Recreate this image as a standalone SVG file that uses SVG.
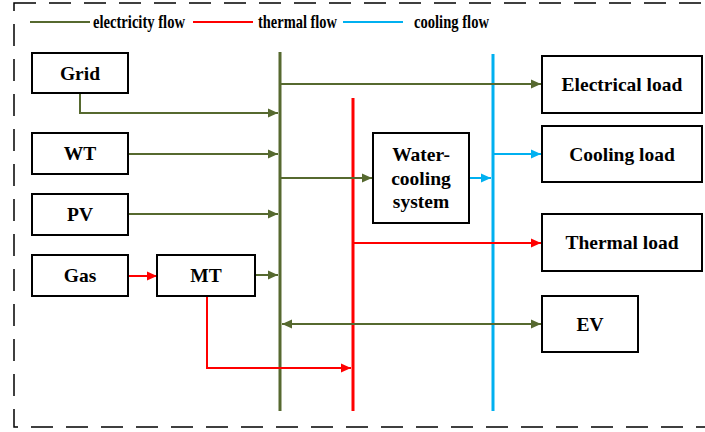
<svg xmlns="http://www.w3.org/2000/svg" width="705" height="432" viewBox="0 0 705 432">
<style>
.box{fill:#fff;stroke:#000;stroke-width:2}
.lbl{font-family:"Liberation Serif","Times New Roman",serif;font-weight:bold;font-size:19.5px;text-anchor:middle;fill:#000}
.leg{font-family:"Liberation Serif","Times New Roman",serif;font-weight:bold;font-size:19.5px;fill:#000}
.g{stroke:#56692F;fill:none;stroke-width:2}
.r{stroke:#FF0000;fill:none;stroke-width:2}
.b{stroke:#00B0F0;fill:none;stroke-width:2}
.bus{stroke-width:3}
</style>
<defs>
<marker id="ag" viewBox="0 0 10 10" refX="10" refY="5" markerWidth="10" markerHeight="10" markerUnits="userSpaceOnUse" orient="auto-start-reverse"><path d="M0,0.5 L10,5 L0,9.5 Z" fill="#56692F"/></marker>
<marker id="ar" viewBox="0 0 10 10" refX="10" refY="5" markerWidth="10" markerHeight="10" markerUnits="userSpaceOnUse" orient="auto"><path d="M0,0.5 L10,5 L0,9.5 Z" fill="#FF0000"/></marker>
<marker id="ab" viewBox="0 0 10 10" refX="10" refY="5" markerWidth="10" markerHeight="10" markerUnits="userSpaceOnUse" orient="auto"><path d="M0,0.5 L10,5 L0,9.5 Z" fill="#00B0F0"/></marker>
</defs>
<rect x="14" y="3" width="700" height="424" fill="none" stroke="#000" stroke-width="1.5" stroke-dasharray="22 13"/>
<g id="legend">
<line x1="30" y1="22" x2="90" y2="22" class="g" stroke-width="3"/>
<text x="93" y="28" class="leg" textLength="92" lengthAdjust="spacingAndGlyphs">electricity flow</text>
<line x1="193" y1="22" x2="253" y2="22" class="r" stroke-width="3"/>
<text x="258" y="28" class="leg" textLength="79" lengthAdjust="spacingAndGlyphs">thermal flow</text>
<line x1="343" y1="22" x2="403" y2="22" class="b" stroke-width="3"/>
<text x="414" y="28" class="leg" textLength="75" lengthAdjust="spacingAndGlyphs">cooling flow</text>
</g>
<g id="connectors">
<line x1="280" y1="52" x2="280" y2="411" class="g bus"/>
<line x1="353" y1="98" x2="353" y2="411" class="r bus"/>
<line x1="493" y1="54" x2="493" y2="411" class="b bus"/>
<path d="M80,93 V113 H278" class="g" marker-end="url(#ag)"/>
<path d="M128,154 H278" class="g" marker-end="url(#ag)"/>
<path d="M128,214 H278" class="g" marker-end="url(#ag)"/>
<path d="M255,275 H278" class="g" marker-end="url(#ag)"/>
<path d="M128,276 H157" class="r" marker-end="url(#ar)"/>
<path d="M281,84 H541" class="g" marker-end="url(#ag)"/>
<path d="M281,178 H372" class="g" marker-end="url(#ag)"/>
<path d="M282,324 H541" class="g" marker-start="url(#ag)" marker-end="url(#ag)"/>
<path d="M207,296 V368 H351" class="r" marker-end="url(#ar)"/>
<path d="M354,243 H541" class="r" marker-end="url(#ar)"/>
<path d="M469,178 H491" class="b" marker-end="url(#ab)"/>
<path d="M494,154 H541" class="b" marker-end="url(#ab)"/>
</g>
<g id="grid"><rect x="32" y="53" width="96" height="40" class="box"/><text x="80" y="80" class="lbl">Grid</text></g>
<g id="wt"><rect x="32" y="133" width="96" height="41" class="box"/><text x="80" y="160" class="lbl">WT</text></g>
<g id="pv"><rect x="32" y="194" width="96" height="41" class="box"/><text x="80" y="221" class="lbl">PV</text></g>
<g id="gas"><rect x="32" y="255" width="96" height="41" class="box"/><text x="80" y="282" class="lbl">Gas</text></g>
<g id="mt"><rect x="157" y="255" width="98" height="41" class="box"/><text x="206" y="282" class="lbl">MT</text></g>
<g id="water"><rect x="373" y="133" width="96" height="90" class="box"/>
<text x="421" y="161" class="lbl">Water-</text><text x="421" y="185" class="lbl">cooling</text><text x="421" y="208" class="lbl">system</text></g>
<g id="elec"><rect x="542" y="56" width="160" height="57" class="box"/><text x="622" y="91" class="lbl">Electrical load</text></g>
<g id="cool"><rect x="542" y="126" width="160" height="56" class="box"/><text x="622" y="161" class="lbl">Cooling load</text></g>
<g id="thermal"><rect x="542" y="214" width="160" height="57" class="box"/><text x="622" y="249" class="lbl">Thermal load</text></g>
<g id="ev"><rect x="542" y="296" width="96" height="56" class="box"/><text x="590" y="331" class="lbl">EV</text></g>
</svg>
